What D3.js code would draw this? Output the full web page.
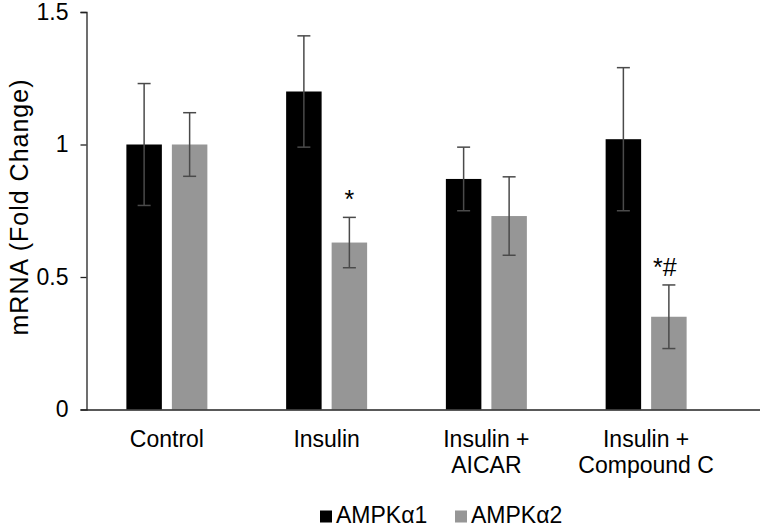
<!DOCTYPE html>
<html>
<head>
<meta charset="utf-8">
<script src="https://cdn.jsdelivr.net/npm/d3@7"></script>
<style>
  html, body { margin: 0; padding: 0; background: #fff; }
  svg text { font-family: "Liberation Sans", Arial, sans-serif; fill: #000; }
</style>
</head>
<body>
<svg id="chart" width="760" height="529"></svg>
<script>
// ---- data ----
const categories = [["Control"], ["Insulin"], ["Insulin +", "AICAR"], ["Insulin +", "Compound C"]];
const seriesNames = ["AMPKα1", "AMPKα2"];
const alpha1Mean = [1.00, 1.20, 0.87, 1.02];
const alpha1Err  = [0.23, 0.21, 0.12, 0.27];
const alpha2Mean = [1.00, 0.63, 0.73, 0.35];
const alpha2Err  = [0.12, 0.095, 0.148, 0.12];
const alpha2Marks = ["", "*", "", "*#"];
const yTicks = [0, 0.5, 1, 1.5];
const yTickLabels = ["0", "0.5", "1", "1.5"];
const colors = ["#000000", "#969696"];

const svg = d3.select("#chart");
const yTop = 12, yBottom = 409.5, xLeft = 86.5;

const y = d3.scaleLinear().domain([0, 1.5]).range([yBottom, yTop]);
const x0 = d3.scaleBand().domain(d3.range(categories.length))
  .range([87, 726]).paddingInner(0.493).paddingOuter(0.2465);
const x1 = d3.scaleBand().domain(d3.range(seriesNames.length))
  .range([0, x0.bandwidth()]).paddingInner(0.22).paddingOuter(0);

const series = [
  { name: seriesNames[0], mean: alpha1Mean, err: alpha1Err, marks: ["", "", "", ""] },
  { name: seriesNames[1], mean: alpha2Mean, err: alpha2Err, marks: alpha2Marks }
];

// bars
series.forEach((s, si) => {
  const g = svg.append("g");
  g.selectAll("rect").data(s.mean).join("rect")
    .attr("x", (d, i) => x0(i) + x1(si))
    .attr("y", d => y(d))
    .attr("width", x1.bandwidth())
    .attr("height", d => y(0) - y(d))
    .attr("fill", colors[si]);
});

// y axis
const yAxis = d3.axisLeft(y).tickValues(yTicks)
  .tickFormat((d, i) => yTickLabels[i]).tickSize(6).tickPadding(12);
const ga = svg.append("g").attr("transform", `translate(${xLeft},0)`).call(yAxis);
ga.attr("font-size", null).attr("font-family", null);
ga.select(".domain").attr("stroke", "#222").attr("stroke-width", 1.3);
ga.selectAll(".tick line").attr("stroke", "#222").attr("stroke-width", 1.3);
ga.selectAll(".tick text").style("font-size", "23px").attr("fill", "#000");

// x axis baseline
svg.append("line").attr("x1", xLeft).attr("x2", 760)
  .attr("y1", y(0) + 0.5).attr("y2", y(0) + 0.5)
  .attr("stroke", "#222").attr("stroke-width", 1.6);

// error bars
series.forEach((s, si) => {
  const g = svg.append("g").attr("stroke", "#4a4a4a").attr("stroke-width", 1.5);
  s.mean.forEach((m, i) => {
    const cx = x0(i) + x1(si) + x1.bandwidth() / 2;
    const hi = y(m + s.err[i]), lo = y(m - s.err[i]);
    g.append("line").attr("x1", cx).attr("x2", cx).attr("y1", hi).attr("y2", lo);
    g.append("line").attr("x1", cx - 6.5).attr("x2", cx + 6.5).attr("y1", hi).attr("y2", hi);
    g.append("line").attr("x1", cx - 6.5).attr("x2", cx + 6.5).attr("y1", lo).attr("y2", lo);
    if (s.marks[i]) {
      svg.append("text").attr("x", cx - (s.marks[i].length > 1 ? 4 : 0)).attr("y", hi - 9)
        .attr("text-anchor", "middle").style("font-size", "25px").text(s.marks[i]);
    }
  });
});

// category labels
categories.forEach((lines, i) => {
  const cx = x0(i) + x0.bandwidth() / 2;
  const t = svg.append("text").attr("text-anchor", "middle").style("font-size", "23px")
    .attr("x", cx).attr("y", 447);
  lines.forEach((ln, k) => {
    t.append("tspan").attr("x", cx).attr("dy", k === 0 ? 0 : 26).text(ln);
  });
});

// y label
svg.append("text").attr("transform", "translate(28,207) rotate(-90)")
  .attr("text-anchor", "middle").style("font-size", "25px").style("letter-spacing", "1px")
  .text("mRNA (Fold Change)");

// legend
const legendX = [320, 455];
const lg = svg.append("g");
seriesNames.forEach((n, i) => {
  lg.append("rect").attr("x", legendX[i]).attr("y", 510.5).attr("width", 12).attr("height", 12)
    .attr("fill", colors[i]);
  lg.append("text").attr("x", legendX[i] + 16).attr("y", 523).style("font-size", "23px").text(n);
});
</script>
</body>
</html>
